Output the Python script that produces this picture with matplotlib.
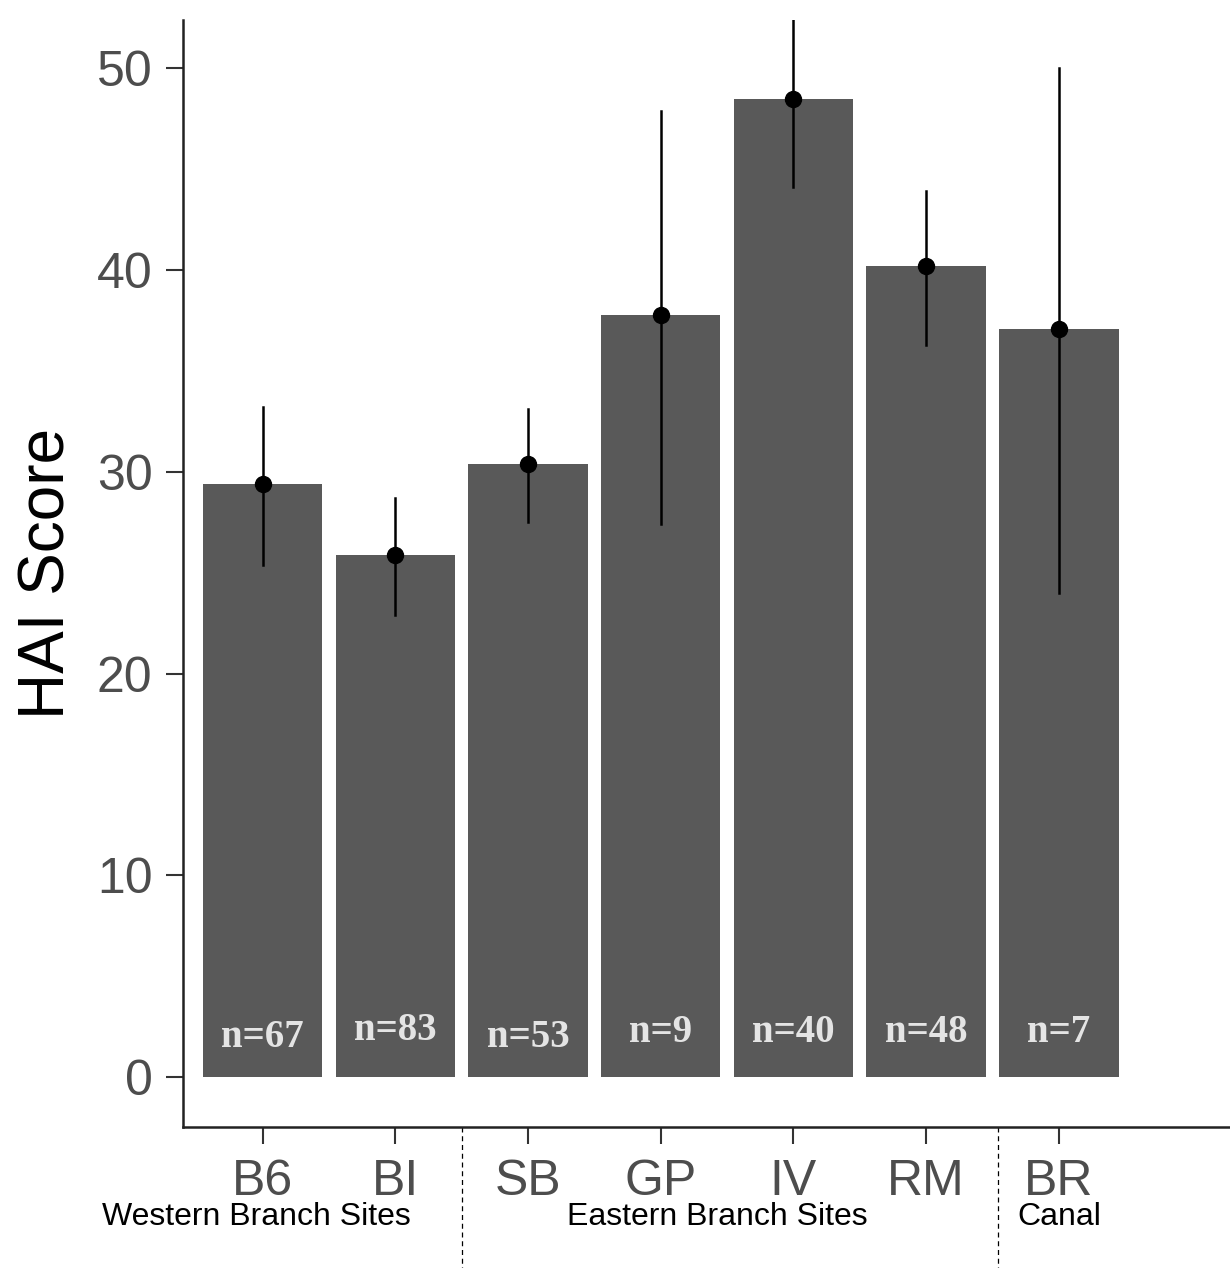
import matplotlib
matplotlib.use("Agg")
import matplotlib.pyplot as plt
import matplotlib.transforms as mtransforms

sites = ["B6", "BI", "SB", "GP", "IV", "RM", "BR"]
means = [29.4, 25.9, 30.4, 37.8, 48.5, 40.2, 37.1]
err_low = [25.4, 22.9, 27.5, 27.4, 44.1, 36.3, 24.0]
err_high = [33.2, 28.7, 33.1, 47.9, 52.6, 43.9, 50.0]
n_labels = ["n=67", "n=83", "n=53", "n=9", "n=40", "n=48", "n=7"]
n_label_y = [1.95, 2.3, 1.95, 2.2, 2.2, 2.2, 2.2]
groups = ["Western Branch Sites", "Eastern Branch Sites", "Canal"]
group_x = [-0.05, 3.43, 6.0]
divider_x = [1.5, 5.54]

plt.rcParams['font.family'] = ['Liberation Sans', 'DejaVu Sans']

fig = plt.figure(figsize=(12.3, 12.68), dpi=100)
ax = fig.add_axes([183/1230, 1 - 1127/1268, 1 - 183/1230, (1127 - 20)/1268])

x = list(range(len(sites)))
ax.bar(x, means, width=0.9, color="#595959", zorder=1)
for xi, lo, hi in zip(x, err_low, err_high):
    ax.plot([xi, xi], [lo, hi], color="black", lw=1.8, zorder=2)
ax.plot(x, means, 'o', color="black", ms=11.5, zorder=3)

for xi, lab, yy in zip(x, n_labels, n_label_y):
    ax.text(xi, yy, lab, ha="center", va="center", color="#e4e4e4",
            fontsize=28, fontweight="bold", family=["Liberation Serif", "DejaVu Serif"])

ax.set_xlim(-0.6, 7.29)
ax.set_ylim(-2.48, 52.4)
ax.set_yticks([0, 10, 20, 30, 40, 50])
ax.set_xticks(x)
ax.set_xticklabels(sites)
ax.tick_params(axis="both", length=12, width=1.5, color="#333333",
               labelcolor="#4d4d4d", labelsize=36)
ax.tick_params(axis="x", pad=11)
ax.tick_params(axis="y", pad=10)
ax.set_ylabel("HAI Score", fontsize=46, color="black", labelpad=14)

for s in ["top", "right"]:
    ax.spines[s].set_visible(False)
for s in ["left", "bottom"]:
    ax.spines[s].set_linewidth(1.8)
    ax.spines[s].set_color("#222222")

trans = mtransforms.blended_transform_factory(ax.transData, ax.transAxes)
for dx in divider_x:
    ax.plot([dx, dx], [0, -0.14], transform=trans, color="black", lw=0.9,
            ls=(0, (4, 3)), clip_on=False)

for gx, g in zip(group_x, groups):
    ax.text(gx, -(1217 - 1127) / 1107, g, transform=trans, ha="center", va="center",
            fontsize=23, color="black")

fig.savefig("out.png", dpi=100)
